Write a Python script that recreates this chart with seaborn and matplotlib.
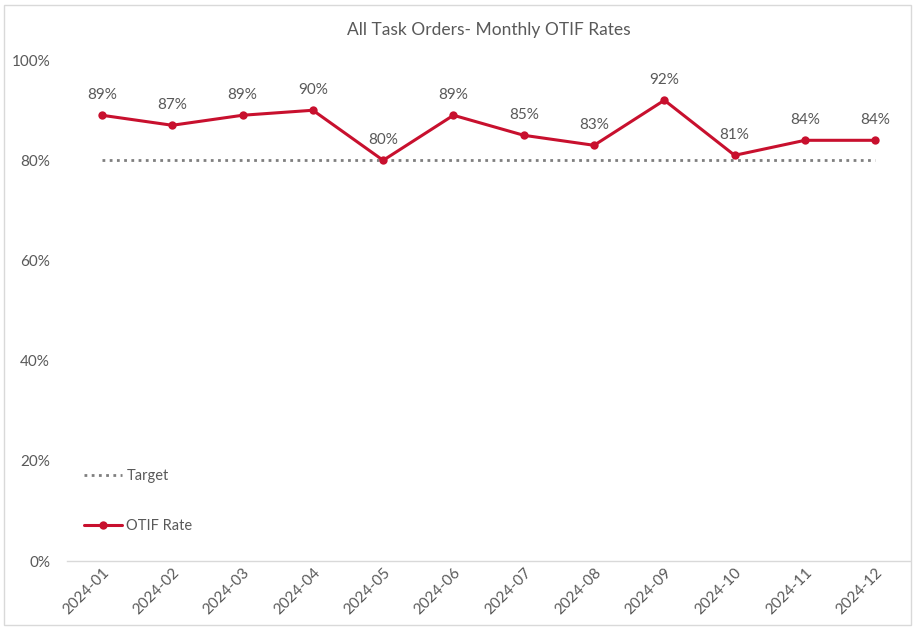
import pandas as pd
import matplotlib.pyplot as plt
import seaborn as sns
from matplotlib.patches import Rectangle
from matplotlib.ticker import PercentFormatter

# Chart data
months = ['2024-01', '2024-02', '2024-03', '2024-04', '2024-05', '2024-06',
          '2024-07', '2024-08', '2024-09', '2024-10', '2024-11', '2024-12']
otif_rate = [89, 87, 89, 90, 80, 89, 85, 83, 92, 81, 84, 84]
target = [80] * 12

data = pd.DataFrame({'month': months, 'OTIF Rate': otif_rate, 'Target': target})

sns.set_style('white')
plt.rcParams['font.family'] = ['Lato', 'DejaVu Sans']

text_color = '#595959'
red = '#C8102E'

fig = plt.figure(figsize=(9.15, 6.3), dpi=100)
ax = fig.add_axes([0.073, 0.1095, 0.922, 0.795])

sns.lineplot(data=data, x='month', y='Target', ax=ax, color='#7f7f7f',
             linestyle=(0, (1, 1.6)), linewidth=2, label='Target', sort=False)
sns.lineplot(data=data, x='month', y='OTIF Rate', ax=ax, color=red,
             linewidth=2.2, marker='o', markersize=6, markeredgewidth=0,
             label='OTIF Rate', sort=False)

# Data labels
for i, v in enumerate(otif_rate):
    ax.text(i, v + 2.6, f'{v}%', ha='center', va='bottom', fontsize=11,
            color=text_color)

ax.set_ylim(0, 100)
ax.set_xlim(-0.5, len(months) - 0.5)
ax.set_yticks([0, 20, 40, 60, 80, 100])
ax.yaxis.set_major_formatter(PercentFormatter(decimals=0))
ax.set_xlabel('')
ax.set_ylabel('')
ax.tick_params(axis='both', colors=text_color, labelsize=11, length=0)
ax.tick_params(axis='y', pad=12)
plt.setp(ax.get_xticklabels(), rotation=45, ha='right', rotation_mode='anchor')

for side in ['top', 'right', 'left']:
    ax.spines[side].set_visible(False)
ax.spines['bottom'].set_color('#d9d9d9')
ax.spines['bottom'].set_linewidth(1)

ax.set_title('All Task Orders- Monthly OTIF Rates', fontsize=12.5,
             color=text_color, pad=18)

leg = ax.legend(loc='lower left', bbox_to_anchor=(0.005, 0.03), frameon=False,
                fontsize=10.5, labelspacing=2.45, handlelength=2.6,
                handletextpad=0.3, labelcolor=text_color)

# Light border around the chart area
fig.patches.append(Rectangle((0.004, 0.008), 0.992, 0.984, transform=fig.transFigure,
                             fill=False, edgecolor='#d9d9d9', linewidth=1))

fig.savefig('out.png', dpi=100)
